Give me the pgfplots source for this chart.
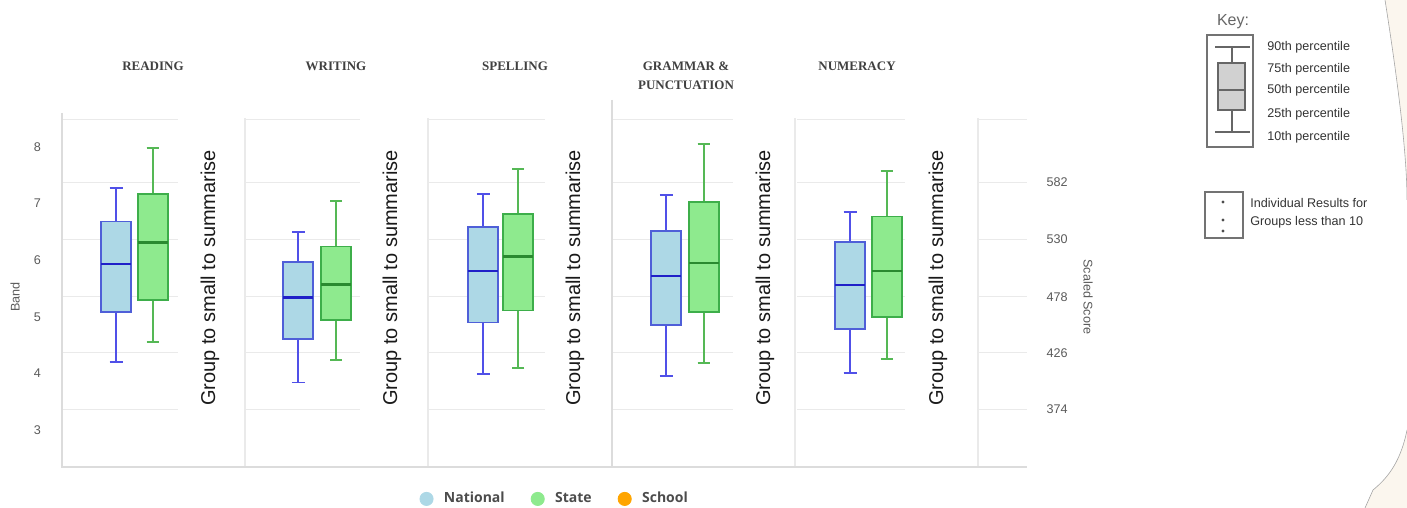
\documentclass[border=0pt]{standalone}
\usepackage{pgfplots}
\pgfplotsset{compat=1.18}
\usepgfplotslibrary{statistics}
\usepackage{fontspec}
\setmainfont{Liberation Sans}
\newfontfamily\opensans{Open Sans}
\newfontfamily\titlefont{Liberation Serif}
\definecolor{natfill}{HTML}{ADD8E6}
\definecolor{natdraw}{HTML}{4F5FD8}
\definecolor{natmed}{HTML}{2020C8}
\definecolor{natwhisk}{HTML}{5050E8}
\definecolor{statefill}{HTML}{8EEA8E}
\definecolor{statedraw}{HTML}{3DAE4A}
\definecolor{statemed}{HTML}{2A8A30}
\definecolor{statewhisk}{HTML}{55B855}
\definecolor{schoolc}{HTML}{FFA500}
\definecolor{gridc}{HTML}{EAEAEA}
\definecolor{framec}{HTML}{DCDCDC}
\definecolor{tickgray}{HTML}{5A5A5A}
\definecolor{cream}{HTML}{FBF6EE}
\pgfplotsset{
  natstyle/.style={draw=natdraw, fill=natfill, line width=0.9pt,
    boxplot/draw direction=y,
    boxplot/every median/.style={draw=natmed, line width=1.3pt},
    boxplot/every whisker/.style={draw=natwhisk, line width=0.9pt}},
  statestyle/.style={draw=statedraw, fill=statefill, line width=0.9pt,
    boxplot/draw direction=y,
    boxplot/every median/.style={draw=statemed, line width=1.3pt},
    boxplot/every whisker/.style={draw=statewhisk, line width=0.9pt}},
}
\begin{document}
\begin{tikzpicture}
\useasboundingbox (0,0) rectangle (703.5pt,254pt);
\begin{scope}[x=0.5pt,y=-0.5pt,shift={(0pt,254pt)}]
  % decorative cream edge
  \fill[cream] (1385,0) .. controls (1396,70) and (1407,150) .. (1407,200) -- (1407,430)
     .. controls (1400,465) and (1385,480) .. (1373,490) -- (1365,508) -- (1407,508) -- (1407,0) -- cycle;
  \draw[line width=0.3pt, color=black!35] (1385,0) .. controls (1396,70) and (1407,150) .. (1407,200);
  \draw[line width=0.3pt, color=black!35] (1407,430) .. controls (1400,465) and (1385,480) .. (1373,490) -- (1365,508);
  % grid segments
  \foreach \yy in {120,183,240,297,353,410}{
    \foreach \xa/\xb in {62/178,245/360,428/545,612/733,797/905,978/1027}{
      \draw[gridc, line width=0.5pt] (\xa,\yy) -- (\xb,\yy);
    }
  }
  % separators
  \foreach \xx in {245,428,795,978}{
    \draw[gridc, line width=0.6pt] (\xx,118) -- (\xx,467);
  }
  \draw[framec, line width=0.6pt] (612,100) -- (612,467);
  \draw[framec, line width=0.7pt] (62,113) -- (62,467) -- (1027,467);
\end{scope}

% x axis in units of 100 px of the picture
\begin{axis}[
  at={(31pt,20.5pt)}, anchor=south west, scale only axis,
  width=484pt, height=173.5pt,
  xmin=0.62, xmax=10.30, ymin=2.351, ymax=8.471,
  axis line style={draw=none},
  xtick=\empty, ytick={3,4,5,6,7,8}, major tick length=0pt,
  yticklabel style={font=\fontsize{6.3}{7}\selectfont, text=tickgray, xshift=-7pt},
  /pgf/number format/assume math mode=true,
  clip=false,
  legend style={at={(0.510,-0.092)}, anchor=center, draw=none, fill=none,
    legend columns=3, font=\opensans\bfseries\fontsize{7}{8}\selectfont, text=black!70,
    /tikz/every even column/.append style={column sep=11pt}, inner sep=0pt},
]
\addlegendimage{legend image code/.code={\fill[natfill] (0pt,0pt) circle (3.3pt); \path (6.5pt,0pt);}}
\addlegendentry{National}
\addlegendimage{legend image code/.code={\fill[statefill] (0pt,0pt) circle (3.3pt); \path (6.5pt,0pt);}}
\addlegendentry{State}
\addlegendimage{legend image code/.code={\fill[schoolc] (0pt,0pt) circle (3.3pt); \path (6.5pt,0pt);}}
\addlegendentry{School}

% Reading
\addplot+[forget plot, natstyle, boxplot prepared={draw position=1.160, lower whisker=4.20, lower quartile=5.09, median=5.93, upper quartile=6.68, upper whisker=7.27, box extend=0.30, whisker extend=0.13}] coordinates {};
\addplot+[forget plot, statestyle, boxplot prepared={draw position=1.527, lower whisker=4.55, lower quartile=5.30, median=6.31, upper quartile=7.17, upper whisker=7.98, box extend=0.30, whisker extend=0.12}] coordinates {};
% Writing
\addplot+[forget plot, natstyle, boxplot prepared={draw position=2.983, lower whisker=3.84, lower quartile=4.61, median=5.34, upper quartile=5.96, upper whisker=6.49, box extend=0.30, whisker extend=0.13}] coordinates {};
\addplot+[forget plot, statestyle, boxplot prepared={draw position=3.360, lower whisker=4.24, lower quartile=4.94, median=5.57, upper quartile=6.24, upper whisker=7.04, box extend=0.30, whisker extend=0.12}] coordinates {};
% Spelling
\addplot+[forget plot, natstyle, boxplot prepared={draw position=4.833, lower whisker=3.99, lower quartile=4.90, median=5.81, upper quartile=6.58, upper whisker=7.17, box extend=0.30, whisker extend=0.13}] coordinates {};
\addplot+[forget plot, statestyle, boxplot prepared={draw position=5.183, lower whisker=4.09, lower quartile=5.11, median=6.06, upper quartile=6.81, upper whisker=7.61, box extend=0.30, whisker extend=0.12}] coordinates {};
% Grammar & Punctuation
\addplot+[forget plot, natstyle, boxplot prepared={draw position=6.663, lower whisker=3.96, lower quartile=4.86, median=5.72, upper quartile=6.51, upper whisker=7.15, box extend=0.30, whisker extend=0.13}] coordinates {};
\addplot+[forget plot, statestyle, boxplot prepared={draw position=7.037, lower whisker=4.19, lower quartile=5.08, median=5.95, upper quartile=7.03, upper whisker=8.05, box extend=0.30, whisker extend=0.12}] coordinates {};
% Numeracy
\addplot+[forget plot, natstyle, boxplot prepared={draw position=8.500, lower whisker=4.01, lower quartile=4.78, median=5.56, upper quartile=6.32, upper whisker=6.85, box extend=0.30, whisker extend=0.13}] coordinates {};
\addplot+[forget plot, statestyle, boxplot prepared={draw position=8.867, lower whisker=4.25, lower quartile=4.99, median=5.81, upper quartile=6.77, upper whisker=7.57, box extend=0.30, whisker extend=0.12}] coordinates {};
\end{axis}

\begin{scope}[x=0.5pt,y=-0.5pt,shift={(0pt,254pt)}]
  % panel titles
  \tikzset{ptitle/.style={font=\titlefont\bfseries\fontsize{6.5}{7}\selectfont, text=black!75, inner sep=0pt}}
  \node[ptitle] at (153,66) {READING};
  \node[ptitle] at (336,66) {WRITING};
  \node[ptitle] at (515,66) {SPELLING};
  \node[ptitle] at (686,66) {GRAMMAR \&};
  \node[ptitle] at (686,85) {PUNCTUATION};
  \node[ptitle] at (857,66) {NUMERACY};
  % group too small text
  \foreach \xx in {210,392,575,765,938}{
    \node[rotate=90, font=\fontsize{10}{12}\selectfont, text=black!90, inner sep=0pt] at (\xx,278) {Group to small to summarise};
  }
  % axis titles
  \node[rotate=90, font=\fontsize{6.3}{7}\selectfont, text=tickgray] at (15,297) {Band};
  \node[rotate=-90, font=\fontsize{6.3}{7}\selectfont, text=tickgray] at (1088,297) {Scaled Score};
  \foreach \yy/\lab in {182/582,239/530,297/478,353/426,409/374}{
    \node[font=\fontsize{6.3}{7}\selectfont, text=tickgray] at (1057,\yy) {\lab};
  }
  % key
  \node[font=\fontsize{8}{9}\selectfont, text=black!60] at (1233,22) {Key:};
  \draw[black!55, line width=0.7pt] (1207,35) rectangle (1253,147);
  \draw[black!60, line width=0.7pt] (1215,47) -- (1250,47) (1232,47) -- (1232,63) (1232,110) -- (1232,132) (1215,132) -- (1250,132);
  \draw[black!60, fill=black!18, line width=0.7pt] (1218,63) rectangle (1245,110);
  \draw[black!60, line width=0.7pt] (1218,90) -- (1245,90);
  \tikzset{keytxt/.style={font=\fontsize{6.3}{7}\selectfont, text=black!80, anchor=west, inner sep=0pt}}
  \node[keytxt] at (1267,47) {90th percentile};
  \node[keytxt] at (1267,69) {75th percentile};
  \node[keytxt] at (1267,90) {50th percentile};
  \node[keytxt] at (1267,114) {25th percentile};
  \node[keytxt] at (1267,137) {10th percentile};
  \draw[black!55, line width=0.7pt] (1205,192) rectangle (1243,238);
  \fill[black!70] (1223,202) circle (1.6) (1223,220) circle (1.6) (1223,231) circle (1.6);
  \node[keytxt] at (1250,203) {Individual Results for};
  \node[keytxt] at (1250,222) {Groups less than 10};
\end{scope}
\end{tikzpicture}
\end{document}
